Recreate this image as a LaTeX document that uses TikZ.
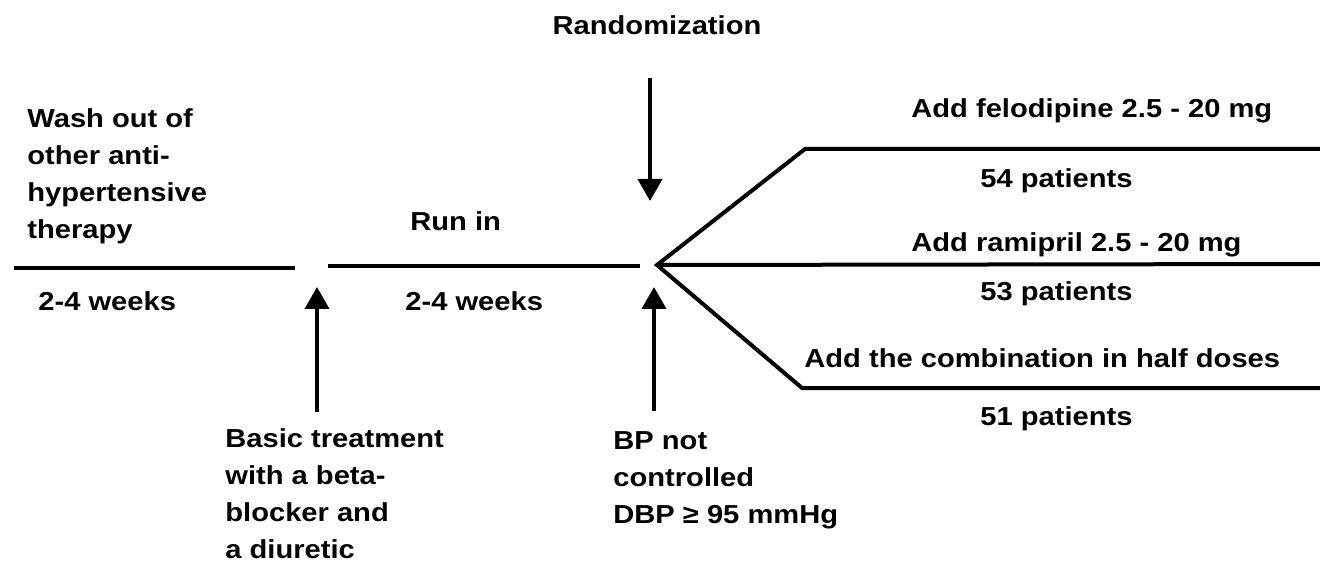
\documentclass[tikz,border=0pt]{standalone}
\usepackage{fontspec}
\setmainfont[FakeStretch=1.12]{Liberation Sans}
\usetikzlibrary{positioning, arrows.meta}

\begin{document}
\begin{tikzpicture}[
  x=0.5pt, y=-0.5pt,
  lbl/.style={font=\fontsize{13}{18.5}\selectfont\bfseries, inner sep=0pt, align=left},
  track/.style={line width=2pt},
  marker/.style={line width=2pt, -{Triangle[width=12pt,length=11pt]}}
]
  \useasboundingbox (0,0) rectangle (1320,566);

  % ── time line ──
  \coordinate (w0) at (14,268);
  \coordinate (w1) at (295,268);
  \coordinate (r0) at (328,266);
  \coordinate (r1) at (640,266);
  \coordinate (j) at (657,265);
  \draw[track] (w0) -- (w1);
  \draw[track] (r0) -- (r1);

  % ── branches ──
  \coordinate (fk) at (805,149);
  \coordinate (fe) at (1320,149);
  \coordinate (re) at (1320,264);
  \coordinate (ck) at (802,388);
  \coordinate (ce) at (1320,388);
  \draw[track, line join=miter] (fe) -- (fk) -- (j) -- (ck) -- (ce);
  \draw[track] (j) -- (re);

  % ── phases ──
  \node[lbl, anchor=base west] (wash) at (27,239)
    {Wash out of\\other anti-\\hypertensive\\therapy};
  \node[lbl, anchor=base west] (washwk) at (38,310) {2-4 weeks};
  \node[lbl, anchor=base west] (runin) at (410,231) {Run in};
  \node[lbl, anchor=base west] (runwk) at (405,310) {2-4 weeks};

  % ── events ──
  \node[lbl, anchor=base] (rand) at (657,35) {Randomization};
  \coordinate (rtop) at (650,78);
  \coordinate (rtip) at (650,201);
  \draw[marker] (rtop) -- (rtip);

  \node[lbl, anchor=base west] (basic) at (225,558)
    {Basic treatment\\with a beta-\\blocker and\\a diuretic};
  \coordinate (btip) at (317,287);
  \coordinate (bfoot) at (317,412);
  \draw[marker] (bfoot) -- (btip);

  \node[lbl, anchor=base west] (bp) at (613,523)
    {BP not\\controlled\\DBP ≥ 95 mmHg};
  \coordinate (ptip) at (654,287);
  \coordinate (pfoot) at (654,411);
  \draw[marker] (pfoot) -- (ptip);

  % ── arms ──
  \node[lbl, anchor=base west] (felo) at (911,118) {Add felodipine 2.5 - 20 mg};
  \node[lbl, anchor=base west] (felon) at (980,188) {54 patients};
  \node[lbl, anchor=base west] (rami) at (911,252) {Add ramipril 2.5 - 20 mg};
  \node[lbl, anchor=base west] (ramin) at (980,300) {53 patients};
  \node[lbl, anchor=base west] (comb) at (804,367) {Add the combination in half doses};
  \node[lbl, anchor=base west] (combn) at (980,425) {51 patients};
\end{tikzpicture}
\end{document}
